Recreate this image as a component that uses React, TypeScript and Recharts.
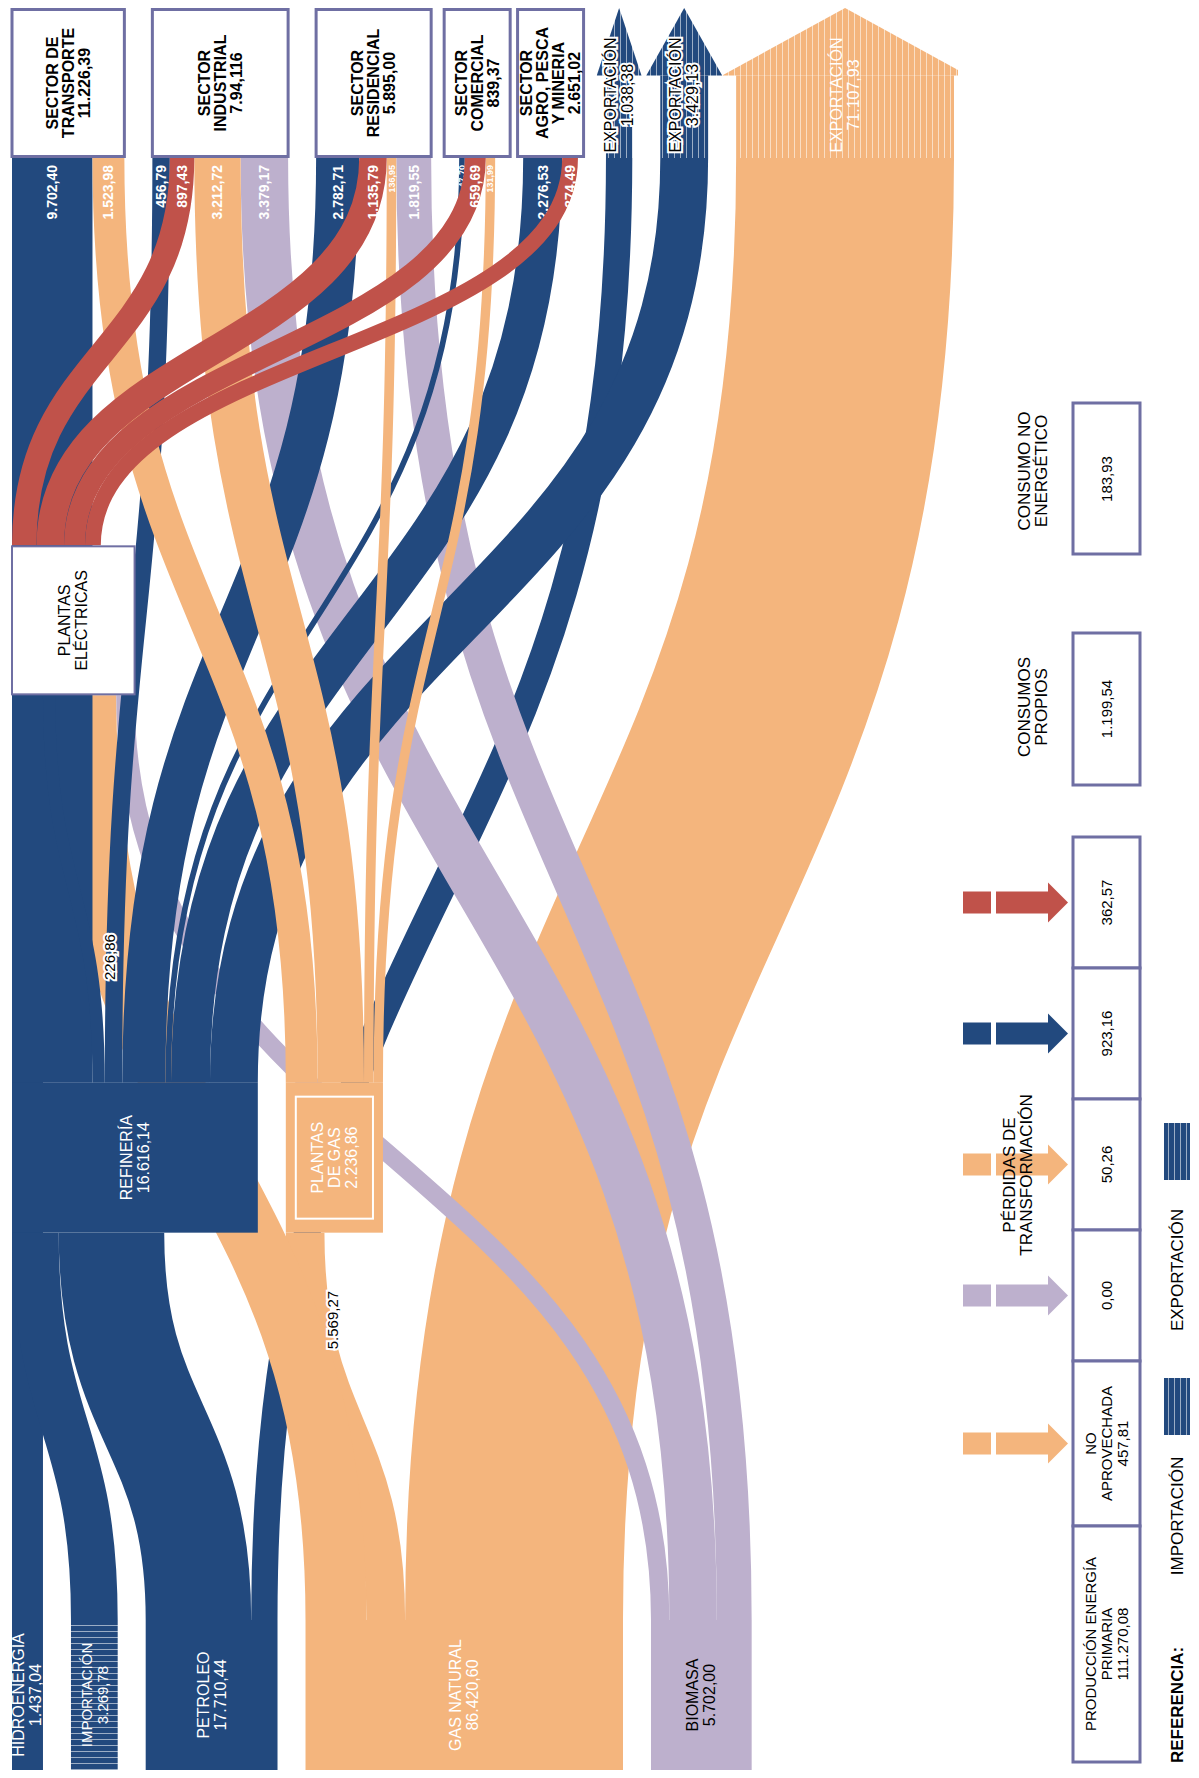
import React from 'react';
import { Sankey } from 'recharts';

// colours of the energy carriers
const FUEL_COLORS: Record<string, string> = {
  elec: '#c0524a',
  oil: '#22497e',
  gas: '#f4b57d',
  bio: '#bdb0cd',
};
const BOX_BORDER = '#6f6fa3';
const FONT = '"Liberation Sans", Arial, Helvetica, sans-serif';

// ---- nodes ----
const nodeNames = [
  'Hidroenergía', 'Importación', 'Petroleo', 'Gas natural', 'Biomasa',
  'Refinería', 'Plantas de gas', 'Plantas eléctricas',
  'Sector de transporte', 'Sector industrial', 'Sector residencial', 'Sector comercial', 'Sector agro, pesca y minería',
  'Exportación petróleo', 'Exportación refinería', 'Exportación gas natural',
];
const nodeKinds = [
  'source', 'import', 'source', 'source', 'source',
  'refinery', 'gasplant', 'power',
  'sector', 'sector', 'sector', 'sector', 'sector',
  'export', 'export', 'export',
];
const nodeFuels = ['oil', 'oil', 'oil', 'gas', 'bio', 'oil', 'gas', '', '', '', '', '', '', 'oil', 'oil', 'gas'];
const nodeLabels = [
  ['HIDROENERGÍA', '1.437,04'],
  ['IMPORTACIÓN', '3.269,78'],
  ['PETROLEO', '17.710,44'],
  ['GAS NATURAL', '86.420,60'],
  ['BIOMASA', '5.702,00'],
  ['REFINERÍA', '16.616,14'],
  ['PLANTAS', 'DE GAS', '2.236,86'],
  ['PLANTAS', 'ELÉCTRICAS'],
  ['SECTOR DE', 'TRANSPORTE', '11.226,39'],
  ['SECTOR', 'INDUSTRIAL', '7.94,116'],
  ['SECTOR', 'RESIDENCIAL', '5.895,00'],
  ['SECTOR', 'COMERCIAL', '839,37'],
  ['SECTOR', 'AGRO, PESCA', 'Y MINERIA', '2.651,02'],
  ['EXPORTACIÓN', '1.038,38'],
  ['EXPORTACIÓN', '3.429,13'],
  ['EXPORTACIÓN', '71.107,93'],
];

// ---- flows ----
const linkSources = [0, 1, 2, 2, 3, 3, 3, 4, 4, 4, 5, 5, 5, 5, 5, 5, 6, 6, 6, 6, 7, 7, 7, 7, 5];
const linkTargets = [7, 5, 5, 13, 6, 7, 15, 7, 9, 10, 8, 9, 10, 11, 12, 14, 8, 9, 10, 11, 9, 10, 11, 12, 7];
const linkValues = [
  1437.04, 3269.78, 16672.06, 1038.38,
  2236.86, 5569.27, 71107.93,
  503.28, 3379.17, 1819.55,
  9702.4, 456.79, 2782.71, 47.7, 2276.53, 3429.13,
  1523.98, 3212.72, 136.95, 131.99,
  897.43, 1135.79, 659.69, 374.49,
  226.86,
];
const linkFuels = [
  'oil', 'oil', 'oil', 'oil',
  'gas', 'gas', 'gas',
  'bio', 'bio', 'bio',
  'oil', 'oil', 'oil', 'oil', 'oil', 'oil',
  'gas', 'gas', 'gas', 'gas',
  'elec', 'elec', 'elec', 'elec',
  'oil',
];
const linkNoted = [5, 24]; // flows whose value is written beside them

// ---- side table ----
const lossValues = [362.57, 923.16, 50.26, 0.0];
const lossFuels = ['elec', 'oil', 'gas', 'bio'];
const unusedValue = 457.81;
const primaryProduction = 111270.08;
const ownUse = 1199.54;
const nonEnergyUse = 183.93;

const fmt = (v: number) => {
  const [i, d] = v.toFixed(2).split('.');
  return i.replace(/\B(?=(\d{3})+(?!\d))/g, '.') + ',' + d;
};

// drawing is done in a landscape frame that is turned -90deg
const L = 1762; // long side (final height)
const S = 1183; // short side (final width)
const SANKEY_H = 950;

// band widths follow the square root of the flow, as the original
// diagram compresses big flows
const data = {
  nodes: nodeNames.map((name, i) => ({ name, kind: nodeKinds[i], fuel: nodeFuels[i], lines: nodeLabels[i] })),
  links: linkSources.map((s, i) => ({
    source: s,
    target: linkTargets[i],
    value: Math.sqrt(linkValues[i]),
    flow: linkValues[i],
    fuel: linkFuels[i],
    toSector: nodeKinds[linkTargets[i]] === 'sector',
    noted: linkNoted.includes(i),
  })),
};

const Lines = ({ cx, cy, lines, size, lh, fill, weight, halo }: any) => (
  <text
    x={cx}
    y={cy}
    textAnchor="middle"
    fontSize={size}
    fontWeight={weight || 'normal'}
    fill={fill}
    stroke={halo ? '#fff' : undefined}
    strokeWidth={halo ? 4 : undefined}
    paintOrder="stroke"
    fontFamily={FONT}
  >
    {lines.map((t: string, i: number) => (
      <tspan key={i} x={cx} y={cy + (i - (lines.length - 1) / 2) * lh} dominantBaseline="central">
        {t}
      </tspan>
    ))}
  </text>
);

const FlowNode = (props: any) => {
  const { x, y, width, height, payload } = props;
  const kind = payload.kind;
  const lines: string[] = payload.lines;
  const cx = x + width / 2;
  const cy = y + height / 2;
  const color = FUEL_COLORS[payload.fuel];

  if (kind === 'sector') {
    const h = Math.max(height, 66);
    return (
      <g>
        <rect x={x + 1.5} y={cy - h / 2} width={width - 3} height={h} fill="#fff" stroke={BOX_BORDER} strokeWidth={3} />
        <Lines cx={cx} cy={cy} lines={lines} size={16} lh={16} fill="#000" weight="bold" />
      </g>
    );
  }
  if (kind === 'export') {
    const bodyEnd = x + width * 0.55;
    const ext = Math.min(14, height * 0.35);
    const pat = payload.fuel === 'gas' ? 'url(#hatch-h-gas)' : 'url(#hatch-h-oil)';
    const big = height > 70;
    return (
      <g>
        <rect x={x} y={y} width={bodyEnd - x} height={height} fill={pat} />
        <polygon points={`${bodyEnd},${y - ext} ${x + width},${cy} ${bodyEnd},${y + height + ext}`} fill={pat} />
        <Lines cx={x + width * 0.42} cy={cy} lines={lines} size={16} lh={17} fill={big ? '#fff' : '#000'} halo={!big} />
      </g>
    );
  }
  if (kind === 'power') {
    return (
      <g>
        <rect x={x + 1} y={y} width={width - 2} height={height} fill="#fff" stroke={BOX_BORDER} strokeWidth={2} />
        <Lines cx={cx} cy={cy} lines={lines} size={16} lh={17} fill="#000" />
      </g>
    );
  }
  if (kind === 'gasplant') {
    return (
      <g>
        <rect x={x} y={y} width={width} height={height} fill={color} />
        <rect x={x + 14} y={y + 10} width={width - 28} height={height - 20} fill="none" stroke="#fff" strokeWidth={2} />
        <Lines cx={cx} cy={cy} lines={lines} size={16} lh={17} fill="#fff" />
      </g>
    );
  }
  if (kind === 'import') {
    return (
      <g>
        <rect x={x} y={y} width={width} height={height} fill="url(#hatch-v-oil)" />
        <Lines cx={cx} cy={cy} lines={lines} size={15} lh={16} fill="#fff" />
      </g>
    );
  }
  // sources and refinery
  return (
    <g>
      <rect x={x} y={y} width={width} height={height} fill={color} />
      <Lines cx={cx} cy={cy} lines={lines} size={16} lh={17} fill={payload.fuel === 'bio' ? '#000' : '#fff'} />
    </g>
  );
};

// point on the link's cubic curve, used to place a side note
const curvePoint = (t: number, p: any) => {
  const u = 1 - t;
  const bx = (a: number, b: number, c: number, d: number) => u * u * u * a + 3 * u * u * t * b + 3 * u * t * t * c + t * t * t * d;
  return {
    x: bx(p.sourceX, p.sourceControlX, p.targetControlX, p.targetX),
    y: bx(p.sourceY, p.sourceY, p.targetY, p.targetY),
  };
};

const FlowLink = (props: any) => {
  const { sourceX, targetX, sourceY, targetY, sourceControlX, targetControlX, linkWidth, payload } = props;
  const color = FUEL_COLORS[payload.fuel];
  const d = `M${sourceX},${sourceY}C${sourceControlX},${sourceY} ${targetControlX},${targetY} ${targetX},${targetY}`;
  const size = Math.max(9, Math.min(14, linkWidth * 0.9));
  const note = payload.noted ? curvePoint(0.28, props) : null;
  return (
    <g>
      <path d={d} fill="none" stroke={color} strokeWidth={linkWidth} />
      {payload.toSector && (
        <text
          x={targetX - 7}
          y={targetY}
          textAnchor="end"
          dominantBaseline="central"
          fontSize={size}
          fontWeight="bold"
          fill="#fff"
          fontFamily={FONT}
        >
          {fmt(payload.flow)}
        </text>
      )}
      {note && (
        <text
          x={note.x}
          y={note.y + linkWidth / 2 + 14}
          textAnchor="middle"
          dominantBaseline="central"
          fontSize={15}
          fill="#000"
          stroke="#fff"
          strokeWidth={4}
          paintOrder="stroke"
          fontFamily={FONT}
        >
          {fmt(payload.flow)}
        </text>
      )}
    </g>
  );
};

const SidePanel = () => {
  const tableTop = 933;
  const sizes = [131, 131, 131, 131, 165, 236];
  const cellText = [
    ...lossValues.map((v) => [fmt(v)]),
    ['NO', 'APROVECHADA', fmt(unusedValue)],
    ['PRODUCCIÓN ENERGÍA', 'PRIMARIA', fmt(primaryProduction)],
  ];
  const arrowFuels = [...lossFuels, 'gas'];
  let pos = tableTop;
  const cells = sizes.map((sz, i) => {
    const x1 = pos - sz;
    pos = x1;
    return { x: x1, w: sz, lines: cellText[i], fuel: arrowFuels[i] };
  });
  const hatch = (id: string, color: string, vertical: boolean) => (
    <pattern id={id} patternUnits="userSpaceOnUse" width={6} height={6}>
      <rect width={6} height={6} fill={color} />
      {vertical ? (
        <line x1={0.5} y1={0} x2={0.5} y2={6} stroke="#fff" strokeOpacity={0.55} strokeWidth={1} />
      ) : (
        <line x1={0} y1={0.5} x2={6} y2={0.5} stroke="#fff" strokeOpacity={0.55} strokeWidth={1} />
      )}
    </pattern>
  );
  return (
    <svg width={L} height={S - SANKEY_H} style={{ position: 'absolute', left: 0, top: SANKEY_H }}>
      <defs>
        {hatch('hatch-h-oil', FUEL_COLORS.oil, false)}
        {hatch('hatch-v-oil', FUEL_COLORS.oil, true)}
        {hatch('hatch-h-gas', FUEL_COLORS.gas, false)}
      </defs>
      {cells.map((c, i) => {
        const cx = c.x + c.w / 2;
        return (
          <g key={i}>
            {i < 5 && (
              <g fill={FUEL_COLORS[c.fuel]}>
                <rect x={cx - 11} y={5} width={22} height={28} />
                <rect x={cx - 11} y={38} width={22} height={52} />
                <polygon points={`${cx - 20},90 ${cx + 20},90 ${cx},110`} />
              </g>
            )}
            <rect x={c.x} y={115} width={c.w} height={67} fill="#fff" stroke={BOX_BORDER} strokeWidth={3} />
            <Lines cx={cx} cy={148} lines={c.lines} size={15} lh={16} fill="#000" />
          </g>
        );
      })}
      <Lines cx={595} cy={60} lines={['PÉRDIDAS DE', 'TRANSFORMACIÓN']} size={17} lh={17} fill="#000" />

      <rect x={985} y={115} width={152} height={67} fill="#fff" stroke={BOX_BORDER} strokeWidth={3} />
      <Lines cx={1061} cy={148} lines={[fmt(ownUse)]} size={15} lh={16} fill="#000" />
      <Lines cx={1063} cy={75} lines={['CONSUMOS', 'PROPIOS']} size={17} lh={17} fill="#000" />

      <rect x={1216} y={115} width={151} height={67} fill="#fff" stroke={BOX_BORDER} strokeWidth={3} />
      <Lines cx={1291} cy={148} lines={[fmt(nonEnergyUse)]} size={15} lh={16} fill="#000" />
      <Lines cx={1299} cy={75} lines={['CONSUMO NO', 'ENERGÉTICO']} size={17} lh={17} fill="#000" />

      <Lines cx={65} cy={219} lines={['REFERENCIA:']} size={17} lh={17} fill="#000" weight="bold" />
      <Lines cx={254} cy={219} lines={['IMPORTACIÓN']} size={17} lh={17} fill="#000" />
      <rect x={335} y={206} width={57} height={26} fill="url(#hatch-h-oil)" />
      <Lines cx={500} cy={219} lines={['EXPORTACIÓN']} size={17} lh={17} fill="#000" />
      <rect x={590} y={206} width={57} height={26} fill="url(#hatch-h-oil)" />
    </svg>
  );
};

export default function App() {
  return (
    <div style={{ width: S, height: L, position: 'relative', overflow: 'hidden', fontFamily: FONT, background: '#fff' }}>
      <div
        style={{
          position: 'absolute',
          left: 0,
          top: 0,
          width: L,
          height: S,
          transformOrigin: '0 0',
          transform: `translateY(${L}px) rotate(-90deg)`,
        }}
      >
        <Sankey
          width={L}
          height={SANKEY_H}
          data={data}
          node={FlowNode}
          link={FlowLink}
          nodeWidth={150}
          nodePadding={28}
          iterations={0}
          sort={false}
          linkCurvature={0.5}
          margin={{ top: 4, right: 0, bottom: 4, left: 0 }}
        />
        <SidePanel />
      </div>
    </div>
  );
}
